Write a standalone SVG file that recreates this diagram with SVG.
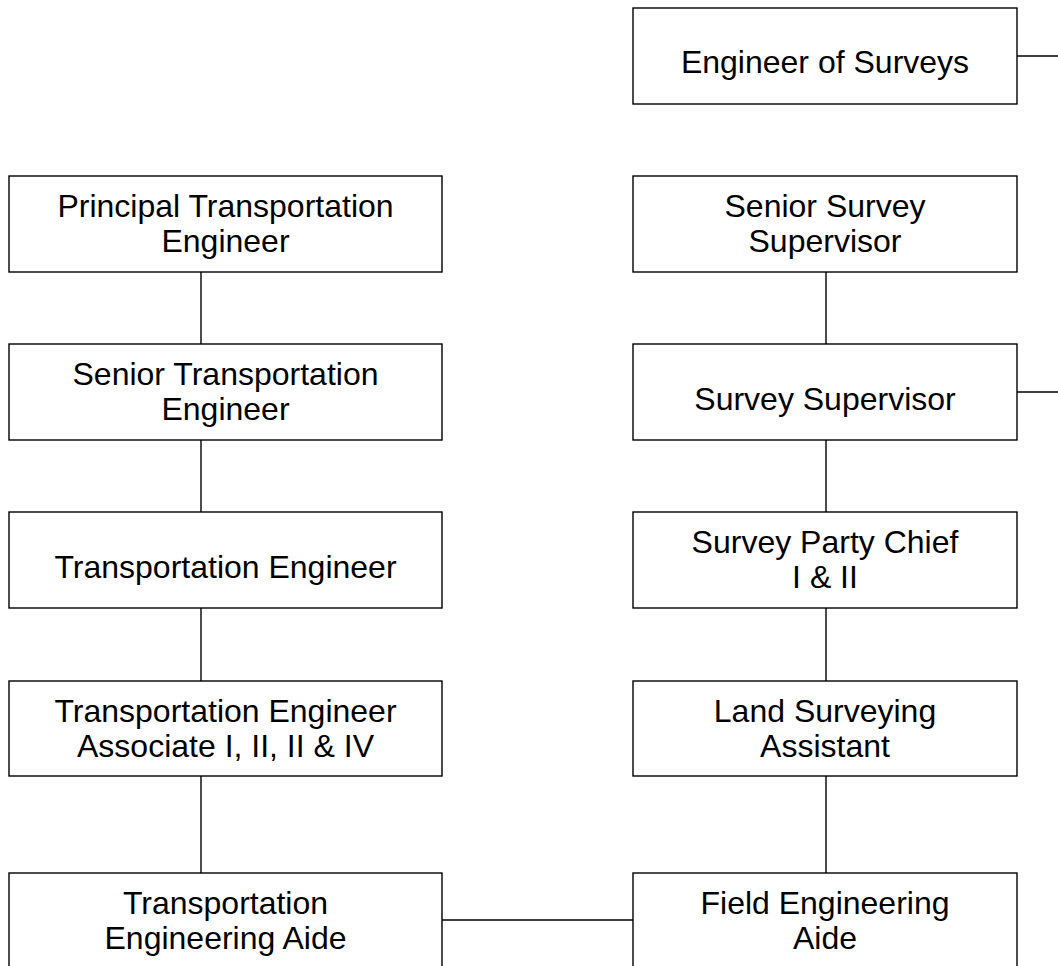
<svg xmlns="http://www.w3.org/2000/svg" width="1058" height="966" viewBox="0 0 1058 966">
<style>
.box{fill:#fff;stroke:#000;stroke-width:1.4}
.t{font-family:"Liberation Sans",Arial,sans-serif;font-size:32px;fill:#000;text-anchor:middle}
.c{stroke:#000;stroke-width:1.4;fill:none}
</style>
<rect width="1058" height="966" fill="#fff"/>
<g id="connectors">
<line class="c" x1="1017" y1="56" x2="1058" y2="56"/>
<line class="c" x1="1017" y1="392" x2="1058" y2="392"/>
<line class="c" x1="201" y1="272" x2="201" y2="344"/>
<line class="c" x1="201" y1="440" x2="201" y2="512"/>
<line class="c" x1="201" y1="608" x2="201" y2="681"/>
<line class="c" x1="201" y1="776" x2="201" y2="873"/>
<line class="c" x1="826" y1="272" x2="826" y2="344"/>
<line class="c" x1="826" y1="440" x2="826" y2="512"/>
<line class="c" x1="826" y1="608" x2="826" y2="681"/>
<line class="c" x1="826" y1="776" x2="826" y2="873"/>
<line class="c" x1="442" y1="920" x2="633" y2="920"/>
</g>
<g id="engineer-of-surveys"><rect class="box" x="633" y="8" width="384" height="96"/><text class="t" x="825" y="73">Engineer of Surveys</text></g>
<g id="principal-te"><rect class="box" x="9" y="176" width="433" height="96"/><text class="t" x="225.5" y="217">Principal Transportation</text><text class="t" x="225.5" y="252">Engineer</text></g>
<g id="senior-te"><rect class="box" x="9" y="344" width="433" height="96"/><text class="t" x="225.5" y="385">Senior Transportation</text><text class="t" x="225.5" y="420">Engineer</text></g>
<g id="te"><rect class="box" x="9" y="512" width="433" height="96"/><text class="t" x="225.5" y="578">Transportation Engineer</text></g>
<g id="te-associate"><rect class="box" x="9" y="681" width="433" height="95"/><text class="t" x="225.5" y="721.5">Transportation Engineer</text><text class="t" x="225.5" y="756.5">Associate I, II, II &amp; IV</text></g>
<g id="te-aide"><rect class="box" x="9" y="873" width="433" height="96"/><text class="t" x="225.5" y="914">Transportation</text><text class="t" x="225.5" y="949">Engineering Aide</text></g>
<g id="senior-survey-supervisor"><rect class="box" x="633" y="176" width="384" height="96"/><text class="t" x="825" y="217">Senior Survey</text><text class="t" x="825" y="252">Supervisor</text></g>
<g id="survey-supervisor"><rect class="box" x="633" y="344" width="384" height="96"/><text class="t" x="825" y="410">Survey Supervisor</text></g>
<g id="survey-party-chief"><rect class="box" x="633" y="512" width="384" height="96"/><text class="t" x="825" y="553">Survey Party Chief</text><text class="t" x="825" y="588">I &amp; II</text></g>
<g id="land-surveying-assistant"><rect class="box" x="633" y="681" width="384" height="95"/><text class="t" x="825" y="721.5">Land Surveying</text><text class="t" x="825" y="756.5">Assistant</text></g>
<g id="field-engineering-aide"><rect class="box" x="633" y="873" width="384" height="96"/><text class="t" x="825" y="914">Field Engineering</text><text class="t" x="825" y="949">Aide</text></g>
</svg>
